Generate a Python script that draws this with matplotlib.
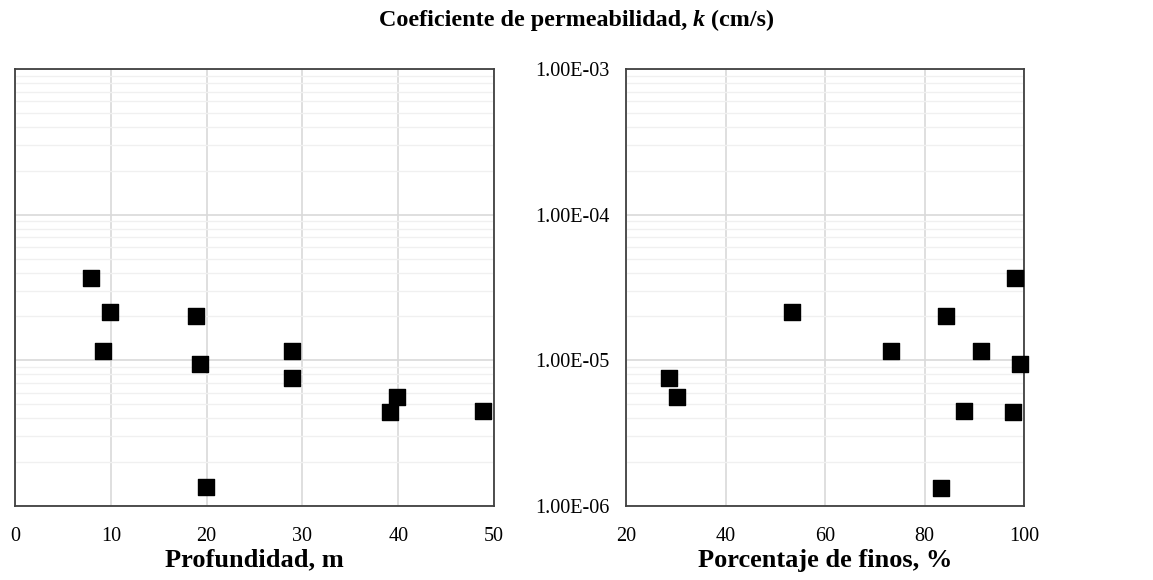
import matplotlib
matplotlib.use("Agg")
import matplotlib.pyplot as plt
from matplotlib.ticker import FixedLocator, FuncFormatter, LogLocator, NullFormatter

plt.rcParams['font.family'] = ['Liberation Serif', 'DejaVu Serif']

# Data
depth_m = [7.9, 9.9, 9.2, 18.9, 19.3, 28.9, 28.9, 39.9, 39.1, 48.9, 19.9]
k_depth = [3.66e-5, 2.15e-5, 1.16e-5, 2.01e-5, 9.5e-6, 1.16e-5, 7.57e-6, 5.62e-6, 4.44e-6, 4.51e-6, 1.34e-6]

fines_pct = [28.6, 30.3, 53.3, 73.2, 84.3, 91.4, 98.2, 99.1, 87.9, 97.7, 83.4]
k_fines = [7.57e-6, 5.58e-6, 2.13e-5, 1.15e-5, 2.0e-5, 1.15e-5, 3.66e-5, 9.4e-6, 4.5e-6, 4.4e-6, 1.33e-6]

depth_ticks = [0, 10, 20, 30, 40, 50]
fines_ticks = [20, 40, 60, 80, 100]
k_ticks = [1e-6, 1e-5, 1e-4, 1e-3]

fig = plt.figure(figsize=(11.53, 5.80), dpi=100)
axL = fig.add_axes([15/1153, 1-506/580, (494-15)/1153, (506-69)/580])
axR = fig.add_axes([626/1153, 1-506/580, (1024-626)/1153, (506-69)/580])

def style(ax, xs, ys, xticks, xlim, xlabel, ylabels):
    ax.set_yscale('log')
    ax.set_ylim(1e-6, 1e-3)
    ax.set_xlim(*xlim)
    ax.set_xticks(xticks)
    ax.yaxis.set_major_locator(FixedLocator(k_ticks))
    ax.yaxis.set_minor_locator(LogLocator(base=10, subs=range(2, 10), numticks=20))
    ax.yaxis.set_minor_formatter(NullFormatter())
    if ylabels:
        ax.yaxis.set_major_formatter(FuncFormatter(lambda v, p: "%.2E" % v))
    else:
        ax.yaxis.set_major_formatter(NullFormatter())
    ax.grid(True, which='major', axis='both', color='#d9d9d9', linewidth=1.2)
    ax.grid(True, which='minor', axis='y', color='#f0f0f0', linewidth=1.0)
    ax.set_axisbelow(True)
    ax.tick_params(which='both', length=0, labelsize=14.5)
    ax.tick_params(axis='x', pad=15)
    ax.tick_params(axis='y', pad=12)
    for s in ax.spines.values():
        s.set_color('#404040')
        s.set_linewidth(1.3)
    ax.scatter(xs, ys, marker='s', s=125, color='black', zorder=3, clip_on=False)
    ax.set_xlabel(xlabel, fontsize=19, fontweight='bold', labelpad=2)

style(axL, depth_m, k_depth, depth_ticks, (0, 50), "Profundidad, m", False)
style(axR, fines_pct, k_fines, fines_ticks, (20, 100), "Porcentaje de finos, %", True)

# Title with bold italic k
t1 = "Coeficiente de permeabilidad, "
t3 = " (cm/s)"
TS = 17.4
renderer = fig.canvas.get_renderer()
tmp1 = fig.text(0, 0, t1, fontsize=TS, fontweight='bold')
tmp2 = fig.text(0, 0, "k", fontsize=TS, fontweight='bold', style='italic')
tmp3 = fig.text(0, 0, t3, fontsize=TS, fontweight='bold')
w1 = tmp1.get_window_extent(renderer).width
w2 = tmp2.get_window_extent(renderer).width
w3 = tmp3.get_window_extent(renderer).width
for t in (tmp1, tmp2, tmp3):
    t.remove()
total = w1 + w2 + w3
W = fig.bbox.width
x0 = (W - total) / 2 / W
yT = 1 - 18/580
fig.text(x0, yT, t1, fontsize=TS, fontweight='bold', va='center_baseline')
fig.text(x0 + w1 / W, yT, "k", fontsize=TS, fontweight='bold', style='italic', va='center_baseline')
fig.text(x0 + (w1 + w2) / W, yT, t3, fontsize=TS, fontweight='bold', va='center_baseline')

fig.savefig("out.png", dpi=100)
